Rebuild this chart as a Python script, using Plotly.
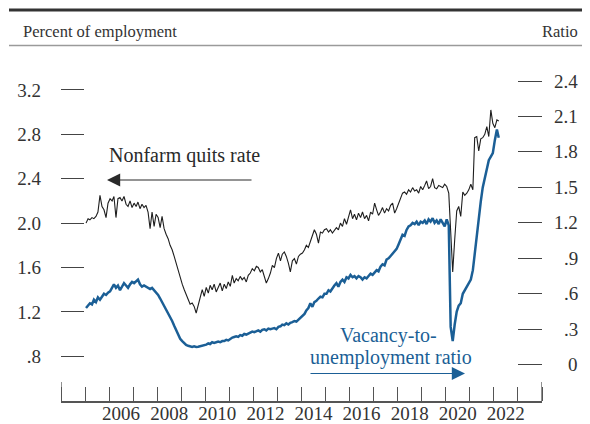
import pandas as pd
import plotly.graph_objects as go

# ---------------- data (monthly, Jan 2005 - Mar 2022) ----------------
start_month = "2005-01-01"

quits_rate = [
    # 2005
    2.00, 2.04, 2.03, 2.05, 2.04, 2.06, 2.10, 2.25, 2.15, 2.12, 2.05, 2.18,
    # 2006
    2.22, 2.20, 2.24, 2.05, 2.22, 2.23, 2.20, 2.24, 2.17, 2.15, 2.20, 2.14,
    # 2007
    2.18, 2.15, 2.19, 2.13, 2.17, 2.14, 2.16, 2.10, 1.95, 2.10, 1.97, 2.08,
    # 2008
    2.05, 1.96, 2.06, 1.95, 1.90, 1.86, 1.80, 1.76, 1.70, 1.64, 1.58, 1.50,
    # 2009
    1.45, 1.40, 1.36, 1.30, 1.27, 1.28, 1.25, 1.19, 1.27, 1.33, 1.40, 1.34,
    # 2010
    1.42, 1.37, 1.44, 1.40, 1.45, 1.38, 1.42, 1.46, 1.39, 1.45, 1.41, 1.47,
    # 2011
    1.43, 1.53, 1.46, 1.50, 1.48, 1.52, 1.49, 1.51, 1.47, 1.53, 1.55, 1.59,
    # 2012
    1.57, 1.61, 1.60, 1.56, 1.58, 1.52, 1.46, 1.50, 1.55, 1.62, 1.60, 1.68,
    # 2013
    1.73, 1.66, 1.72, 1.74, 1.70, 1.64, 1.56, 1.66, 1.68, 1.63, 1.70, 1.72,
    # 2014
    1.73, 1.76, 1.80, 1.78, 1.84, 1.88, 1.94, 1.90, 1.82, 1.92, 1.91, 1.94,
    # 2015
    1.95, 1.92, 1.94, 1.91, 1.93, 1.96, 1.94, 2.00, 1.97, 2.04, 1.99, 2.06,
    # 2016
    2.12, 2.04, 2.08, 2.03, 2.09, 2.05, 2.10, 2.04, 2.07, 2.02, 2.10, 2.08,
    # 2017
    2.18, 2.12, 2.07, 2.10, 2.14, 2.09, 2.13, 2.11, 2.16, 2.18, 2.09, 2.13,
    # 2018
    2.18, 2.24, 2.27, 2.28, 2.26, 2.30, 2.28, 2.32, 2.29, 2.30, 2.27, 2.33,
    # 2019
    2.30, 2.34, 2.38, 2.31, 2.33, 2.40, 2.32, 2.31, 2.34, 2.33, 2.32, 2.35,
    # 2020
    2.33, 2.27, 1.88, 1.56, 1.85, 2.11, 2.15, 2.06, 2.28, 2.25, 2.27, 2.30,
    # 2021
    2.35, 2.30, 2.77, 2.78, 2.65, 2.76, 2.77, 2.80, 2.87, 2.78, 3.02, 2.90,
    # 2022
    2.86, 2.93, 2.92,
]

vacancy_ratio = [
    # 2005
    0.48, 0.50, 0.52, 0.51, 0.55, 0.53, 0.57, 0.55, 0.58, 0.60, 0.59, 0.61,
    # 2006
    0.62, 0.66, 0.68, 0.65, 0.67, 0.63, 0.66, 0.69, 0.67, 0.65, 0.68, 0.70,
    # 2007
    0.69, 0.71, 0.72, 0.68, 0.66, 0.67, 0.66, 0.65, 0.64, 0.65, 0.63, 0.61,
    # 2008
    0.59, 0.56, 0.53, 0.50, 0.47, 0.44, 0.41, 0.37, 0.33, 0.29, 0.26, 0.22,
    # 2009
    0.20, 0.18, 0.167, 0.16, 0.155, 0.15, 0.155, 0.15, 0.152, 0.155, 0.16, 0.165,
    # 2010
    0.17, 0.18, 0.175, 0.19, 0.185, 0.19, 0.195, 0.19, 0.20, 0.20, 0.21, 0.205,
    # 2011
    0.22, 0.23, 0.235, 0.24, 0.235, 0.25, 0.245, 0.26, 0.255, 0.265, 0.27, 0.28,
    # 2012
    0.275, 0.285, 0.29, 0.28, 0.295, 0.30, 0.29, 0.305, 0.30, 0.305, 0.31, 0.30,
    # 2013
    0.32, 0.325, 0.34, 0.335, 0.35, 0.34, 0.355, 0.36, 0.37, 0.365, 0.38, 0.40,
    # 2014
    0.41, 0.43, 0.46, 0.48, 0.52, 0.49, 0.53, 0.54, 0.56, 0.575, 0.57, 0.60,
    # 2015
    0.60, 0.63, 0.62, 0.65, 0.67, 0.69, 0.66, 0.70, 0.72, 0.70, 0.74, 0.73,
    # 2016
    0.76, 0.74, 0.75, 0.73, 0.75, 0.74, 0.72, 0.74, 0.73, 0.75, 0.77, 0.76,
    # 2017
    0.78, 0.80, 0.79, 0.83, 0.85, 0.84, 0.89, 0.90, 0.92, 0.94, 0.96, 0.98,
    # 2018
    1.02, 1.06, 1.10, 1.09, 1.14, 1.17, 1.18, 1.20, 1.19, 1.21, 1.18, 1.21,
    # 2019
    1.20, 1.22, 1.19, 1.23, 1.21, 1.24, 1.20, 1.22, 1.19, 1.23, 1.20, 1.17,
    # 2020
    1.23, 1.18, 0.32, 0.20, 0.34, 0.45, 0.50, 0.52, 0.60, 0.63, 0.66, 0.70,
    # 2021
    0.72, 0.80, 0.95, 1.10, 1.25, 1.38, 1.50, 1.58, 1.66, 1.73, 1.76, 1.79,
    # 2022
    1.90, 1.99, 1.92,
]

left_ticks = [0.8, 1.2, 1.6, 2.0, 2.4, 2.8, 3.2]
left_labels = [".8", "1.2", "1.6", "2.0", "2.4", "2.8", "3.2"]
right_ticks = [0.0, 0.3, 0.6, 0.9, 1.2, 1.5, 1.8, 2.1, 2.4]
right_labels = ["0", ".3", ".6", ".9", "1.2", "1.5", "1.8", "2.1", "2.4"]
label_years = [2006, 2008, 2010, 2012, 2014, 2016, 2018, 2020, 2022]
tick_years = list(range(2004, 2025))

# ---------------- layout helpers ----------------
# the page body has an 8px margin, so the figure is drawn 8px in from the corner
OFF = 8
W, H = 590 - OFF, 424 - OFF
L, R, T, B = 61 - OFF, 48, 60 - OFF, 23
PW = W - L - R
PH = H - T - B


def px(x):
    """page x pixel -> paper coordinate"""
    return (x - OFF - L) / PW


def py(y):
    """page y pixel -> paper coordinate"""
    return (H - B - (y - OFF)) / PH


FONT = "Liberation Serif, Times New Roman, serif"
BLUE = "#1b5f96"
INK = "#2a2a2a"

dates = pd.date_range(start_month, periods=len(quits_rate), freq="MS") + pd.Timedelta(days=14)

fig = go.Figure()
fig.add_trace(go.Scatter(x=dates, y=quits_rate, mode="lines",
                         line=dict(color="#1e1e1e", width=1.1), yaxis="y",
                         showlegend=False, hoverinfo="skip"))
fig.add_trace(go.Scatter(x=dates, y=vacancy_ratio, mode="lines",
                         line=dict(color=BLUE, width=2.5), yaxis="y2",
                         showlegend=False, hoverinfo="skip"))

tickfont = dict(family=FONT, size=19, color="#333333")

fig.update_layout(
    width=W, height=H,
    margin=dict(l=L, r=R, t=T, b=B, pad=0, autoexpand=False),
    paper_bgcolor="white", plot_bgcolor="white",
    showlegend=False,
    xaxis=dict(
        type="date",
        range=["2004-01-01", "2024-01-01"],
        tickmode="array",
        tickvals=[f"{y}-07-01" for y in label_years],
        ticktext=[str(y) for y in label_years],
        ticks="",
        showline=True, linecolor="#555555", linewidth=1.5,
        showgrid=False, zeroline=False, automargin=False,
        tickfont=tickfont, ticklabelstandoff=-6,
        minor=dict(tickmode="array",
                   tickvals=[f"{y}-01-01" for y in tick_years],
                   ticks="inside", ticklen=14, tickwidth=1.3,
                   tickcolor="#555555", showgrid=False),
    ),
    yaxis=dict(
        range=[0.397, 3.470],
        tickmode="array", tickvals=left_ticks, ticktext=left_labels,
        ticks="inside", ticklen=23, tickwidth=1.3, tickcolor="#444444",
        showline=False, showgrid=False, zeroline=False, automargin=False,
        tickfont=tickfont, ticklabelstandoff=19,
    ),
    yaxis2=dict(
        overlaying="y", side="right",
        range=[-0.307, 2.578],
        tickmode="array", tickvals=right_ticks,
        ticks="inside", ticklen=24, tickwidth=1.3, tickcolor="#444444",
        showticklabels=False, automargin=False,
        showline=False, showgrid=False, zeroline=False,
    ),
)

# right axis labels (right-aligned)
for v, lbl in zip(right_ticks, right_labels):
    fig.add_annotation(x=px(580), xref="paper", xanchor="right",
                       y=v, yref="y2", yanchor="middle",
                       text=lbl, showarrow=False, font=tickfont)

# taller end ticks on the x axis
for yr in (tick_years[0], tick_years[-1]):
    fig.add_shape(type="line", xref="x", yref="paper",
                  x0=f"{yr}-01-01", x1=f"{yr}-01-01", y0=0, y1=19 / PH,
                  line=dict(color="#555555", width=1.3))

# header rules
fig.add_shape(type="line", xref="paper", yref="paper",
              x0=px(9), x1=px(590), y0=py(10), y1=py(10),
              line=dict(color="#333333", width=3))
fig.add_shape(type="line", xref="paper", yref="paper",
              x0=px(9), x1=px(590), y0=py(45.5), y1=py(45.5),
              line=dict(color="#9a9a9a", width=1.3))

hdr = dict(family=FONT, size=16.5, color="#333333")
fig.add_annotation(x=px(20.5), y=py(31.5), xref="paper", yref="paper",
                   xanchor="left", yanchor="middle", text="Percent of employment",
                   showarrow=False, font=hdr)
fig.add_annotation(x=px(580), y=py(31.5), xref="paper", yref="paper",
                   xanchor="right", yanchor="middle", text="Ratio",
                   showarrow=False, font=hdr)

# series labels
lab = dict(family=FONT, size=20, color=INK)
fig.add_annotation(x=px(107), y=py(155.5), xref="paper", yref="paper",
                   xanchor="left", yanchor="middle", text="Nonfarm quits rate",
                   showarrow=False, font=lab)
fig.add_annotation(x=px(107), y=py(180), xref="paper", yref="paper",
                   ax=253 - 107, ay=0, axref="pixel", ayref="pixel",
                   text="", showarrow=True, arrowhead=2, arrowsize=2.2,
                   arrowwidth=1.2, arrowcolor=INK, standoff=0)

blab = dict(family=FONT, size=20, color=BLUE)
fig.add_annotation(x=px(388), y=py(335.5), xref="paper", yref="paper",
                   xanchor="center", yanchor="middle", text="Vacancy-to-",
                   showarrow=False, font=blab)
fig.add_annotation(x=px(391), y=py(357), xref="paper", yref="paper",
                   xanchor="center", yanchor="middle", text="unemployment ratio",
                   showarrow=False, font=blab)
fig.add_annotation(x=px(465), y=py(373.5), xref="paper", yref="paper",
                   ax=309 - 465, ay=0, axref="pixel", ayref="pixel",
                   text="", showarrow=True, arrowhead=2, arrowsize=2.2,
                   arrowwidth=1.2, arrowcolor=BLUE, standoff=0)

fig.write_html("out.html")
